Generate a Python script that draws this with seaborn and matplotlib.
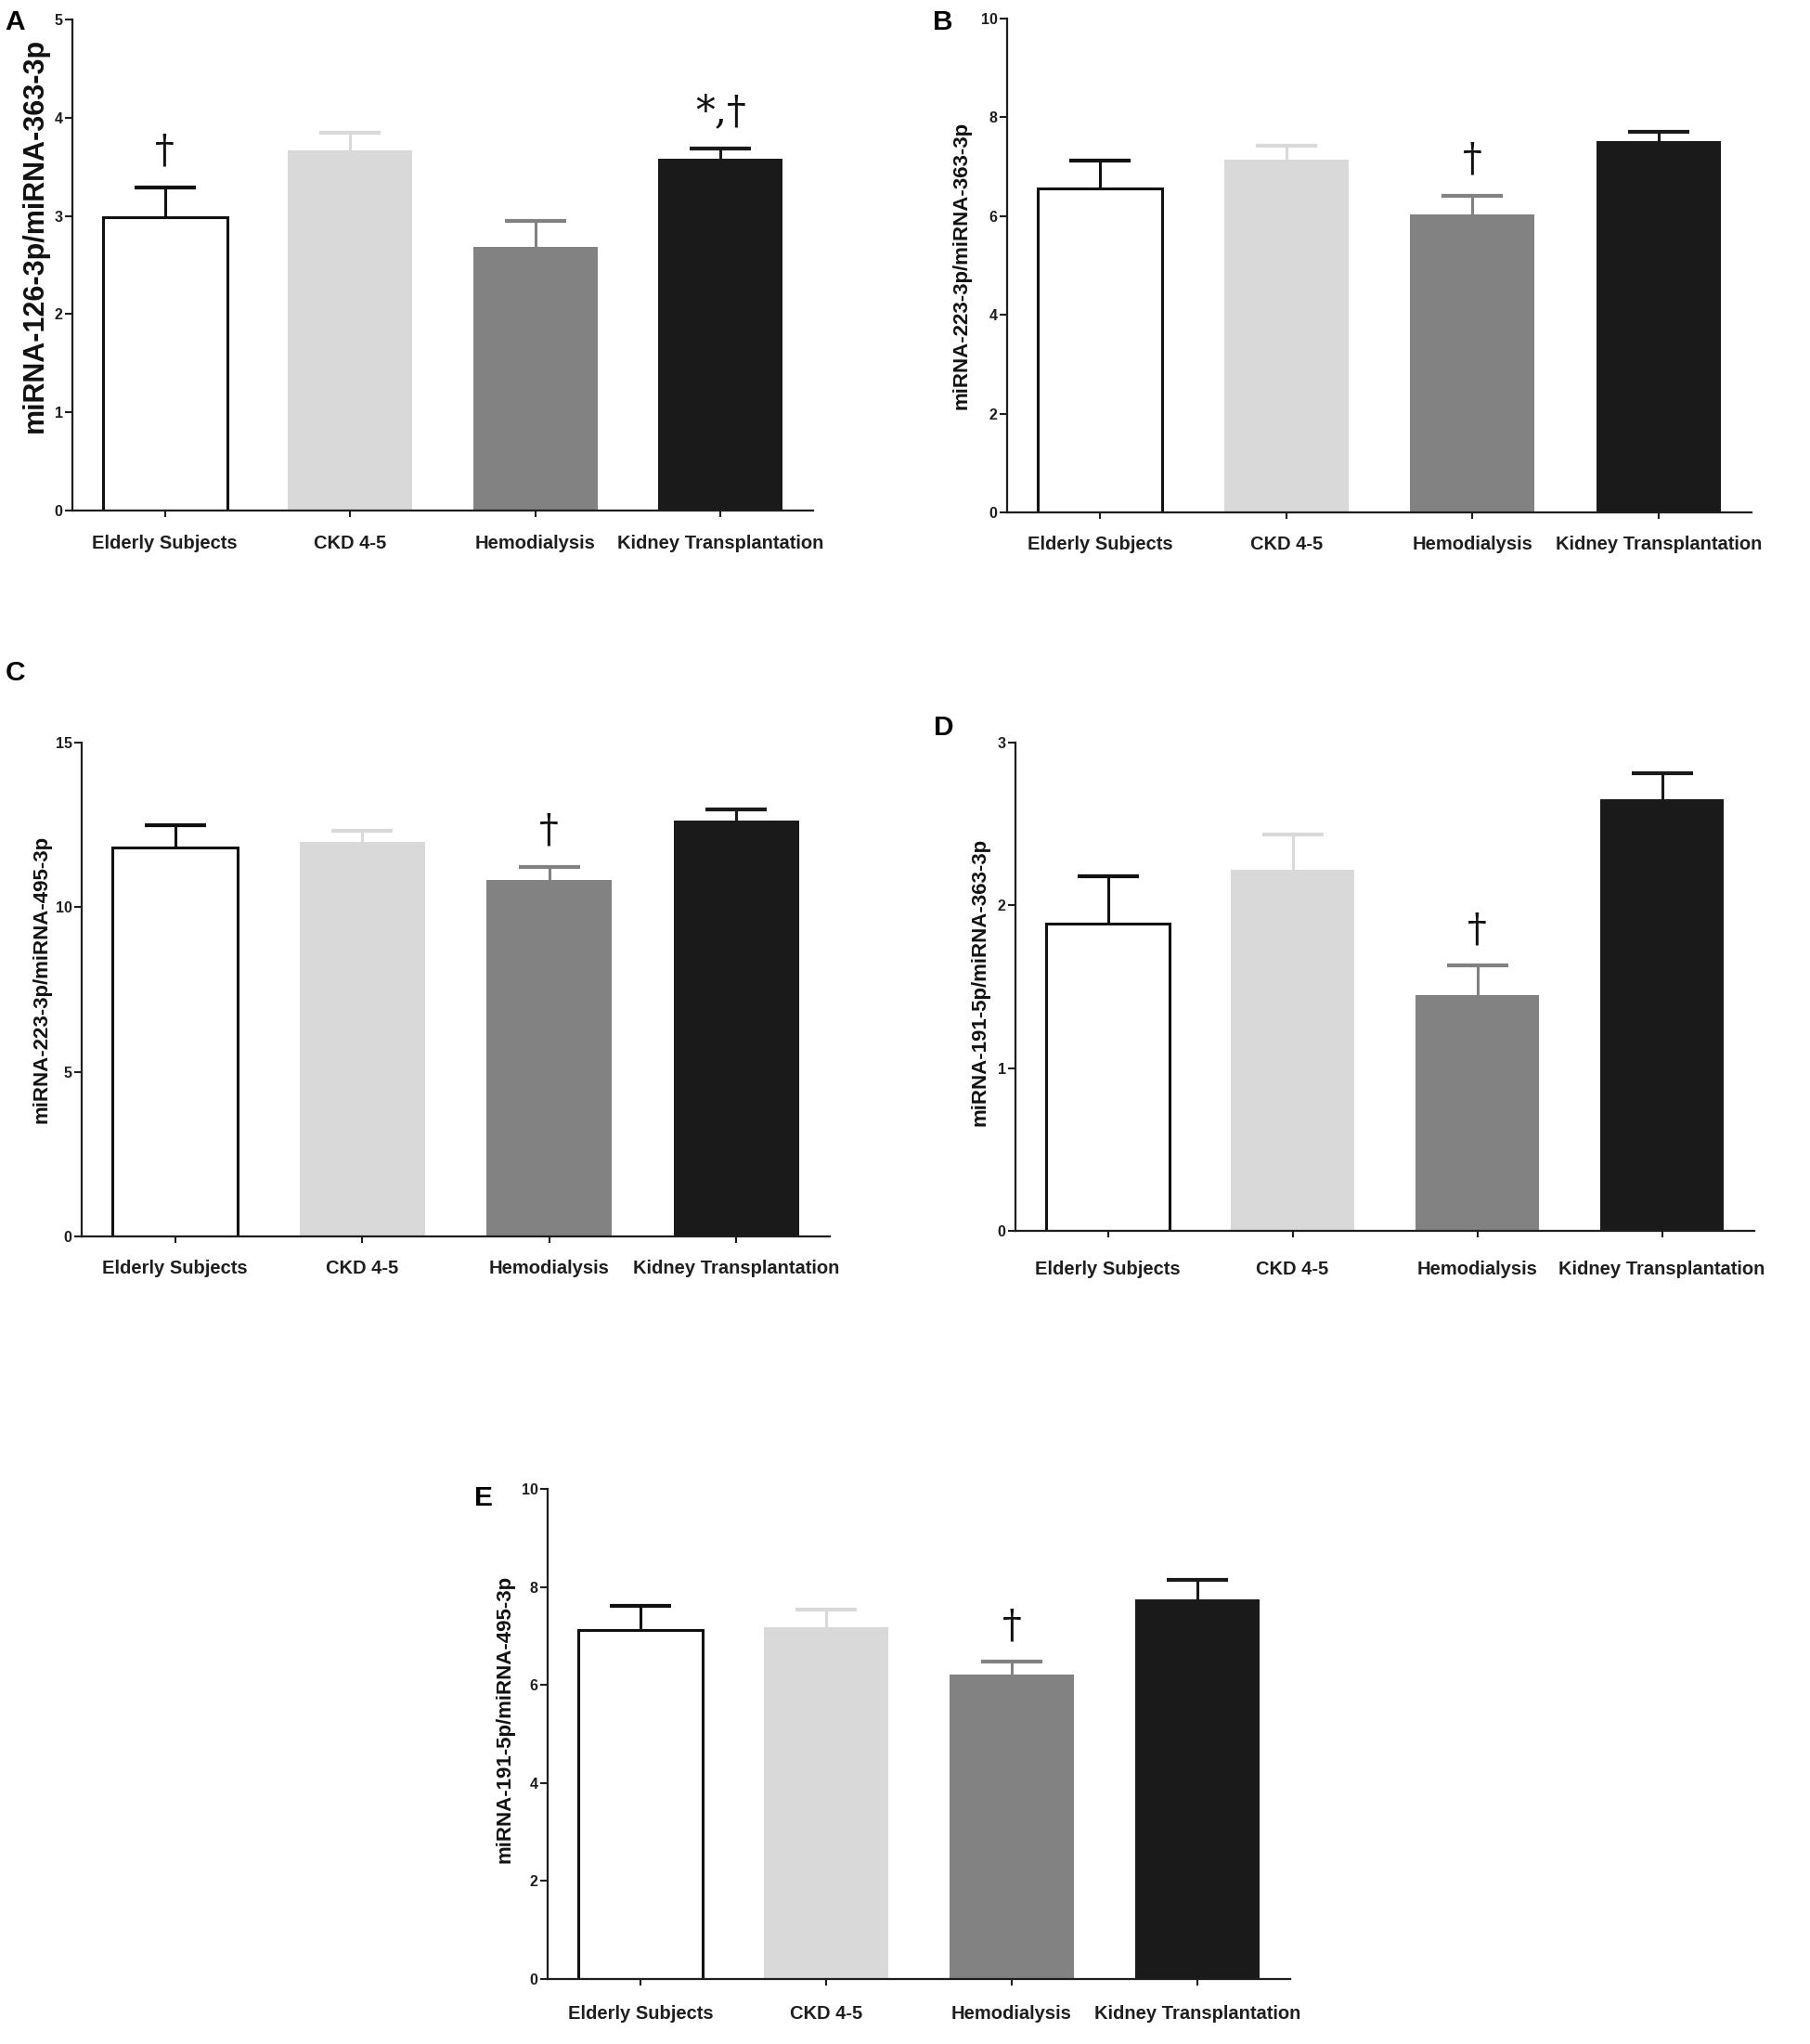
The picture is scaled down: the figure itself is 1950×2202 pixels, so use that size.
import matplotlib
matplotlib.use("Agg")
import matplotlib.pyplot as plt
import seaborn as sns
import numpy as np

# ---------------- data ----------------
groups = ["Elderly Subjects", "CKD 4-5", "Hemodialysis", "Kidney Transplantation"]
bar_colors = ["#ffffff", "#d9d9d9", "#828282", "#1a1a1a"]
err_colors = ["#111111", "#d9d9d9", "#828282", "#1a1a1a"]

# Panel A: miRNA-126-3p/miRNA-363-3p
a_mean = [2.99, 3.67, 2.68, 3.58]
a_sem = [0.30, 0.18, 0.27, 0.11]
a_note = ["\u2020", "", "", "*,\u2020"]
a_ylabel = "miRNA-126-3p/miRNA-363-3p"
a_ticks = [0, 1, 2, 3, 4, 5]

# Panel B: miRNA-223-3p/miRNA-363-3p
b_mean = [6.56, 7.15, 6.03, 7.52]
b_sem = [0.57, 0.27, 0.38, 0.19]
b_note = ["", "", "\u2020", ""]
b_ylabel = "miRNA-223-3p/miRNA-363-3p"
b_ticks = [0, 2, 4, 6, 8, 10]

# Panel C: miRNA-223-3p/miRNA-495-3p
c_mean = [11.80, 11.98, 10.82, 12.63]
c_sem = [0.69, 0.35, 0.41, 0.33]
c_note = ["", "", "\u2020", ""]
c_ylabel = "miRNA-223-3p/miRNA-495-3p"
c_ticks = [0, 5, 10, 15]

# Panel D: miRNA-191-5p/miRNA-363-3p
d_mean = [1.89, 2.22, 1.45, 2.65]
d_sem = [0.29, 0.215, 0.18, 0.16]
d_note = ["", "", "\u2020", ""]
d_ylabel = "miRNA-191-5p/miRNA-363-3p"
d_ticks = [0, 1, 2, 3]

# Panel E: miRNA-191-5p/miRNA-495-3p
e_mean = [7.12, 7.17, 6.22, 7.75]
e_sem = [0.49, 0.36, 0.25, 0.39]
e_note = ["", "", "\u2020", ""]
e_ylabel = "miRNA-191-5p/miRNA-495-3p"
e_ticks = [0, 2, 4, 6, 8, 10]

panel_letters = ["A", "B", "C", "D", "E"]

# ---------------- style ----------------
sns.set_style("ticks")
plt.rcParams["font.family"] = ["Liberation Sans", "DejaVu Sans"]

W, H = 1950, 2202
fig = plt.figure(figsize=(W / 100, H / 100), dpi=100)
fig.patch.set_facecolor("white")

# layout in pixels: left, top, width, bottom, ylabel size, labelpad, ylabel y-center (axes frac),
# x tick label pad, letter x, letter baseline
layout = [
    (78, 21, 798, 550, 22, 4, 0.56, 14, 5, 32),
    (1085, 20, 802, 552, 16, 7, 0.50, 13, 1005, 32),
    (88, 800, 806, 1332, 16, 3, 0.52, 13, 6, 733),
    (1094, 800, 796, 1326, 16, 6, 0.51, 18, 1006, 792),
    (590, 1604, 800, 2132, 16, 5, 0.53, 15, 511, 1622),
]

panels = [
    (a_mean, a_sem, a_note, a_ylabel, a_ticks),
    (b_mean, b_sem, b_note, b_ylabel, b_ticks),
    (c_mean, c_sem, c_note, c_ylabel, c_ticks),
    (d_mean, d_sem, d_note, d_ylabel, d_ticks),
    (e_mean, e_sem, e_note, e_ylabel, e_ticks),
]

axis_col = "#1e1e1e"
text_col = "#1e1e1e"

for (means, sems, notes, ylabel, ticks), (lx, ty, w, by, ylsize, lpad, ylc, xpad, tx, tb), letter in zip(
        panels, layout, panel_letters):
    ax = fig.add_axes([lx / W, 1 - by / H, w / W, (by - ty) / H])
    sns.barplot(x=groups, y=means, hue=groups, palette=bar_colors, legend=False,
                width=0.67, saturation=1, errorbar=None, ax=ax, linewidth=0)
    # outline for the white bar
    for i, p in enumerate(ax.patches):
        if i == 0:
            p.set_edgecolor("#111111")
            p.set_linewidth(2.2)
            p.set_zorder(2)
    # upper-only error bars
    for i in range(len(groups)):
        eb = ax.errorbar(i, means[i], yerr=[[0], [sems[i]]], fmt="none",
                         ecolor=err_colors[i], elinewidth=2.2, capsize=24, capthick=3,
                         zorder=3)
        caps = eb.lines[1]
        if len(caps) > 1:
            caps[0].set_visible(False)   # hide the cap at the bar top
        if notes[i]:
            ax.annotate(notes[i], xy=(i, means[i] + sems[i]), xytext=(0, 13),
                        textcoords="offset points", ha="center", va="bottom",
                        fontsize=30, family=["DejaVu Serif"], color="#111111")
    ax.set_xlim(-0.5, 3.5)
    ax.set_ylim(0, ticks[-1])
    ax.set_yticks(ticks)
    ax.set_yticklabels([str(t) for t in ticks])
    sns.despine(ax=ax)
    for s in ["left", "bottom"]:
        ax.spines[s].set_linewidth(1.6)
        ax.spines[s].set_color(axis_col)
    ax.tick_params(axis="y", length=6, width=1.5, pad=1.5, labelsize=11.5,
                   colors=axis_col, labelcolor=text_col)
    ax.tick_params(axis="x", length=5, width=1.5, pad=xpad, labelsize=14.5,
                   colors=axis_col, labelcolor=text_col)
    for lab in ax.get_yticklabels() + ax.get_xticklabels():
        lab.set_fontweight("bold")
    ax.set_xlabel("")
    ax.set_ylabel(ylabel, fontsize=ylsize, fontweight="bold", color="#111111",
                  labelpad=lpad)
    ax.yaxis.label.set_y(ylc)
    ax.set_facecolor("white")
    fig.text(tx / W, 1 - tb / H, letter, fontsize=21.5, fontweight="bold",
             ha="left", va="baseline", color="#000000")

fig.savefig("out.png", dpi=100, facecolor="white")
